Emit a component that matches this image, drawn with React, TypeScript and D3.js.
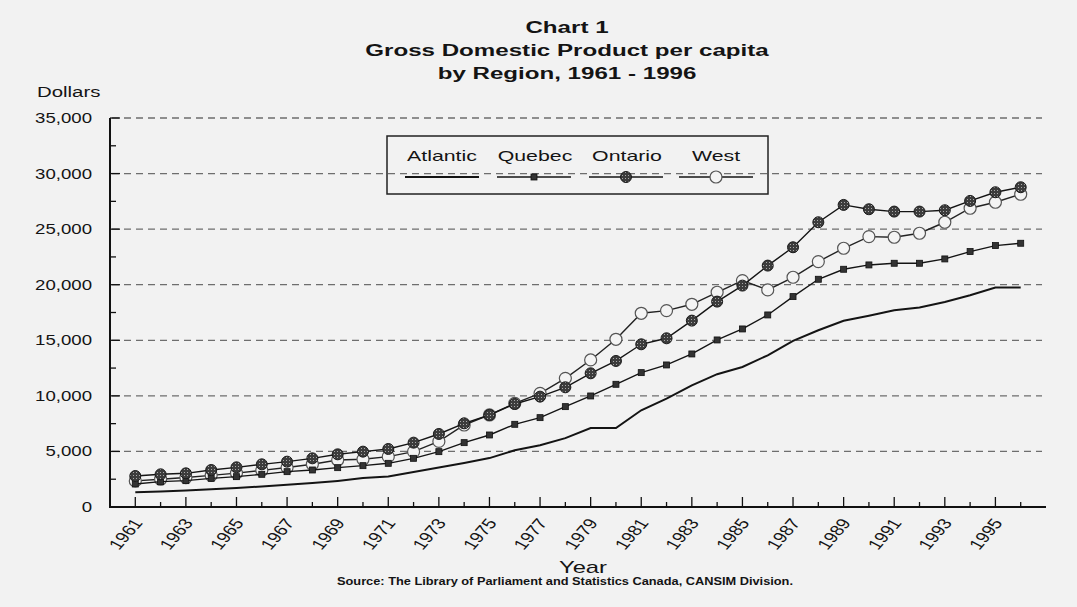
import React, { useEffect, useRef } from 'react';
import * as d3 from 'd3';

const years = [
  1961, 1962, 1963, 1964, 1965, 1966, 1967, 1968, 1969, 1970, 1971, 1972,
  1973, 1974, 1975, 1976, 1977, 1978, 1979, 1980, 1981, 1982, 1983, 1984,
  1985, 1986, 1987, 1988, 1989, 1990, 1991, 1992, 1993, 1994, 1995, 1996,
];

const atlantic = [
  1320, 1400, 1490, 1600, 1720, 1850, 2000, 2150, 2350, 2600, 2750, 3150,
  3550, 3950, 4400, 5100, 5550, 6200, 7100, 7100, 8700, 9750, 10950, 11950,
  12600, 13650, 14950, 15900, 16750, 17200, 17700, 17950, 18450, 19050, 19750, 19750,
];

const quebec = [
  2070, 2280, 2370, 2580, 2730, 2940, 3180, 3330, 3540, 3720, 3930, 4380,
  4980, 5790, 6480, 7440, 8040, 9030, 9990, 11040, 12090, 12780, 13770, 15030,
  16020, 17280, 18930, 20490, 21390, 21780, 21930, 21930, 22320, 22980, 23520, 23730,
];

const ontario = [
  2790, 2940, 3030, 3330, 3570, 3840, 4080, 4380, 4740, 4980, 5220, 5790,
  6570, 7530, 8280, 9270, 9930, 10770, 12030, 13140, 14640, 15180, 16770, 18480,
  19920, 21720, 23370, 25620, 27180, 26790, 26580, 26580, 26700, 27540, 28320, 28770,
];

const west = [
  2350, 2500, 2650, 2850, 3050, 3300, 3550, 3850, 4230, 4290, 4530, 4980,
  5900, 7380, 8280, 9330, 10230, 11580, 13230, 15090, 17430, 17670, 18240, 19320,
  20370, 19530, 20670, 22080, 23280, 24330, 24270, 24630, 25620, 26880, 27420, 28140,
];

const seriesNames = ['Atlantic', 'Quebec', 'Ontario', 'West'];
const yTicks = [0, 5000, 10000, 15000, 20000, 25000, 30000, 35000];
const yMinorTicks = [2500, 7500, 12500, 17500, 22500, 27500, 32500];
const xTickLabels = [
  1961, 1963, 1965, 1967, 1969, 1971, 1973, 1975, 1977,
  1979, 1981, 1983, 1985, 1987, 1989, 1991, 1993, 1995,
];
const titleLines = ['Chart 1', 'Gross Domestic Product per capita', 'by Region, 1961 - 1996'];
const source = 'Source:  The Library of Parliament and Statistics Canada, CANSIM Division.';

const FONT = 'Arial, "Liberation Sans", Helvetica, sans-serif';

type TextOpts = { anchor?: string; weight?: string; sx?: number; rotate?: number };

function addText(
  g: d3.Selection<any, unknown, null, undefined>,
  x: number, y: number, txt: string, size: number, opts: TextOpts = {}
) {
  const sx = opts.sx ?? 1.38;
  const rot = opts.rotate ? ` rotate(${opts.rotate})` : '';
  return g.append('text')
    .attr('transform', `translate(${x},${y}) scale(${sx},1)${rot}`)
    .attr('text-anchor', opts.anchor ?? 'middle')
    .attr('font-family', FONT)
    .attr('font-size', size)
    .attr('font-weight', opts.weight ?? 'normal')
    .attr('fill', '#141414')
    .text(txt);
}

export default function App() {
  const svgRef = useRef<SVGSVGElement>(null);

  useEffect(() => {
    if (!svgRef.current) return;
    const svg = d3.select(svgRef.current);
    svg.selectAll('*').remove();

    const W = 1077, H = 607;
    svg.append('rect').attr('width', W).attr('height', H).attr('fill', '#f2f2f2');

    // ontario marker fill
    const defs = svg.append('defs');
    const pat = defs.append('pattern')
      .attr('id', 'ontHatch')
      .attr('width', 3).attr('height', 3)
      .attr('patternUnits', 'userSpaceOnUse');
    pat.append('rect').attr('width', 3).attr('height', 3).attr('fill', '#3c3c3c');
    pat.append('rect').attr('x', 1).attr('y', 1).attr('width', 1).attr('height', 1).attr('fill', '#a8a8a8');

    const x = d3.scaleLinear().domain([1960, 1997]).range([110, 1046]);
    const y = d3.scaleLinear().domain([0, 35000]).range([507, 118]);

    const root = svg.append('g');

    // Title
    titleLines.forEach((t, i) => {
      addText(root, 567, 33 + i * 23, t, 17, { weight: 'bold', sx: 1.42 });
    });

    // Grid lines
    root.append('g')
      .selectAll('line')
      .data(yTicks.filter(d => d > 0))
      .join('line')
      .attr('x1', x(1960) + 2)
      .attr('x2', 1042)
      .attr('y1', d => y(d))
      .attr('y2', d => y(d))
      .attr('stroke', '#6e6e6e')
      .attr('stroke-width', 1.3)
      .attr('stroke-dasharray', '7,5');

    // Y axis
    const yAxis = root.append('g');
    yAxis.append('line')
      .attr('x1', x(1960)).attr('x2', x(1960))
      .attr('y1', y(35000)).attr('y2', y(0) + 1)
      .attr('stroke', '#111').attr('stroke-width', 2);
    yAxis.selectAll('line.major')
      .data(yTicks)
      .join('line')
      .attr('class', 'major')
      .attr('x1', x(1960)).attr('x2', x(1960) + 10)
      .attr('y1', d => y(d)).attr('y2', d => y(d))
      .attr('stroke', '#111').attr('stroke-width', 1.3);
    yAxis.selectAll('line.minor')
      .data(yMinorTicks)
      .join('line')
      .attr('class', 'minor')
      .attr('x1', x(1960)).attr('x2', x(1960) + 6)
      .attr('y1', d => y(d)).attr('y2', d => y(d))
      .attr('stroke', '#111').attr('stroke-width', 1.3);
    yTicks.forEach(v => {
      addText(yAxis, 92, y(v) + 5, d3.format(',')(v), 14, { anchor: 'end', sx: 1.33 });
    });
    addText(root, 37, 97, 'Dollars', 15, { anchor: 'start', sx: 1.36 });

    // X axis
    const xAxis = root.append('g');
    xAxis.append('line')
      .attr('x1', x(1960) - 1).attr('x2', x(1997))
      .attr('y1', y(0)).attr('y2', y(0))
      .attr('stroke', '#111').attr('stroke-width', 2);
    xAxis.selectAll('line.tick')
      .data(years)
      .join('line')
      .attr('class', 'tick')
      .attr('x1', d => x(d)).attr('x2', d => x(d))
      .attr('y1', y(0)).attr('y2', d => y(0) - (d % 2 === 1 ? 10 : 5))
      .attr('stroke', '#111').attr('stroke-width', 1.3);
    xTickLabels.forEach(yr => {
      addText(xAxis, x(yr) + 8, 523, String(yr), 15, { anchor: 'end', sx: 1.3, rotate: -56 });
    });
    addText(root, 583, 573, 'Year', 17, { sx: 1.4 });
    addText(root, 565, 585, source, 10, { weight: 'bold', sx: 1.28 });

    // Series
    const line = d3.line<number>()
      .x((_, i) => x(years[i]))
      .y(d => y(d));

    const plot = root.append('g');

    // Atlantic
    plot.append('path')
      .attr('d', line(atlantic) || '')
      .attr('fill', 'none').attr('stroke', '#141414').attr('stroke-width', 2);

    // West
    plot.append('path')
      .attr('d', line(west) || '')
      .attr('fill', 'none').attr('stroke', '#222').attr('stroke-width', 1.4);
    plot.append('g').selectAll('circle')
      .data(west)
      .join('circle')
      .attr('cx', (_, i) => x(years[i]))
      .attr('cy', d => y(d))
      .attr('r', 6)
      .attr('fill', '#f4f4f4')
      .attr('stroke', '#555').attr('stroke-width', 1.2);

    // Quebec
    plot.append('path')
      .attr('d', line(quebec) || '')
      .attr('fill', 'none').attr('stroke', '#141414').attr('stroke-width', 1.4);
    plot.append('g').selectAll('rect')
      .data(quebec)
      .join('rect')
      .attr('x', (_, i) => x(years[i]) - 3)
      .attr('y', d => y(d) - 3)
      .attr('width', 6).attr('height', 6)
      .attr('fill', '#333').attr('stroke', '#111').attr('stroke-width', 0.8);

    // Ontario
    plot.append('path')
      .attr('d', line(ontario) || '')
      .attr('fill', 'none').attr('stroke', '#141414').attr('stroke-width', 1.4);
    plot.append('g').selectAll('circle')
      .data(ontario)
      .join('circle')
      .attr('cx', (_, i) => x(years[i]))
      .attr('cy', d => y(d))
      .attr('r', 5.5)
      .attr('fill', 'url(#ontHatch)')
      .attr('stroke', '#1a1a1a').attr('stroke-width', 1);

    // Legend
    const legend = root.append('g');
    legend.append('rect')
      .attr('x', 387).attr('y', 136)
      .attr('width', 381).attr('height', 58)
      .attr('fill', 'none').attr('stroke', '#222').attr('stroke-width', 1.5);
    const labelX = [442, 535, 627, 716];
    const sampleX = [405, 497, 589, 679];
    seriesNames.forEach((name, i) => {
      addText(legend, labelX[i], 161, name, 15, { sx: 1.42 });
      legend.append('line')
        .attr('x1', sampleX[i]).attr('x2', sampleX[i] + 74)
        .attr('y1', 177).attr('y2', 177)
        .attr('stroke', '#141414').attr('stroke-width', i === 0 ? 2 : 1.5);
      const cx = sampleX[i] + 37;
      if (name === 'Quebec') {
        legend.append('rect').attr('x', cx - 3).attr('y', 174).attr('width', 6).attr('height', 6)
          .attr('fill', '#333').attr('stroke', '#111').attr('stroke-width', 0.8);
      } else if (name === 'Ontario') {
        legend.append('circle').attr('cx', cx).attr('cy', 177).attr('r', 5.5)
          .attr('fill', 'url(#ontHatch)').attr('stroke', '#1a1a1a');
      } else if (name === 'West') {
        legend.append('circle').attr('cx', cx).attr('cy', 177).attr('r', 6)
          .attr('fill', '#f4f4f4').attr('stroke', '#555').attr('stroke-width', 1.2);
      }
    });
  }, []);

  return (
    <svg
      ref={svgRef}
      width={1077}
      height={607}
      style={{ position: 'absolute', left: 0, top: 0, display: 'block' }}
    />
  );
}
